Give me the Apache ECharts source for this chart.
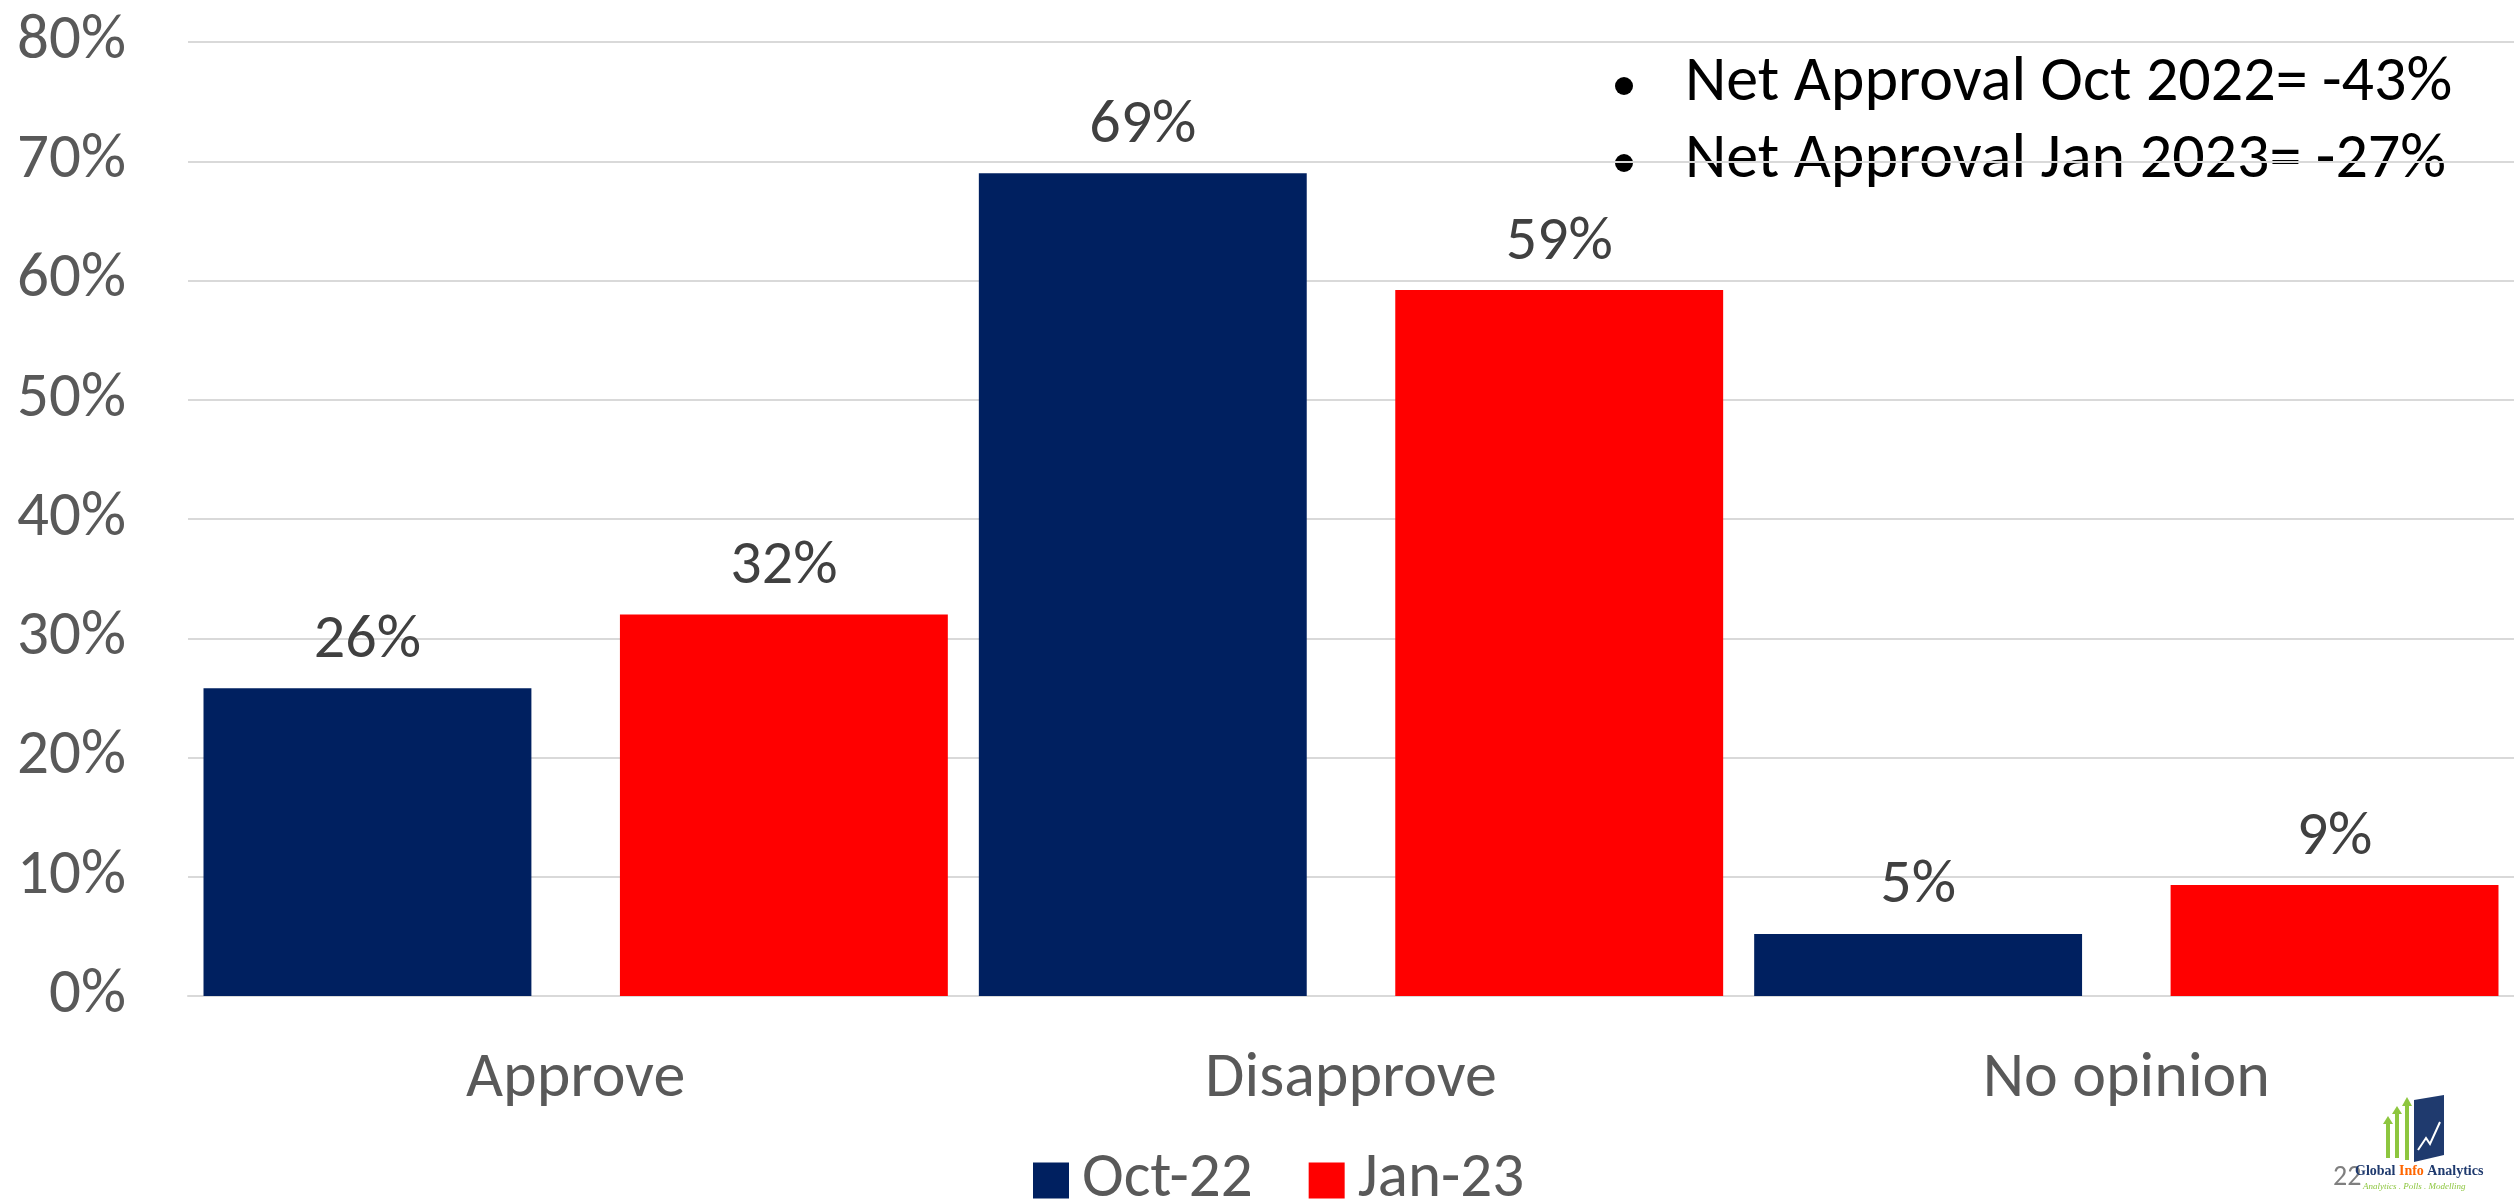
<!DOCTYPE html>
<html><head><meta charset="utf-8">
<script src="https://cdn.jsdelivr.net/npm/echarts@6/dist/echarts.min.js"></script>
<style>html,body{margin:0;padding:0;background:#fff}#c{width:2514px;height:1202px}</style>
</head><body><div id="c"></div>
<script>
const categories = ['Approve', 'Disapprove', 'No opinion'];
const seriesNames = ['Oct-22', 'Jan-23'];
const oct22 = [25.8, 69.0, 5.2];
const jan23 = [32.0, 59.2, 9.3];
const oct22Labels = ['26%', '69%', '5%'];
const jan23Labels = ['32%', '59%', '9%'];
const yTicks = [0, 10, 20, 30, 40, 50, 60, 70, 80];
const notes = ['Net Approval Oct 2022= -43%', 'Net Approval Jan 2023= -27%'];

const FONT = 'Carlito, "Liberation Sans Narrow", "Noto Sans", sans-serif';
const chart = echarts.init(document.getElementById('c'));
chart.setOption({
  animation: false,
  textStyle: { fontFamily: FONT },
  grid: { left: 188, right: 0, top: 42, bottom: 206, containLabel: false },
  legend: {
    data: seriesNames, left: 1028, top: 1144, itemWidth: 36, itemHeight: 36, itemGap: 56,
    icon: 'rect',
    textStyle: { fontSize: 63, color: '#595959', fontFamily: FONT, padding: [0, 0, 0, 8] }
  },
  xAxis: {
    type: 'category', data: categories,
    axisLine: { show: true, lineStyle: { color: '#d9d9d9', width: 2 } },
    axisTick: { show: false },
    axisLabel: { fontSize: 64, color: '#595959', margin: 52, fontFamily: FONT }
  },
  yAxis: {
    type: 'value', min: yTicks[0], max: yTicks[yTicks.length - 1], interval: 10,
    axisLine: { show: false }, axisTick: { show: false },
    splitLine: { lineStyle: { color: '#d9d9d9', width: 2 } },
    axisLabel: { fontSize: 63, color: '#595959', margin: 62, formatter: v => v + '%', fontFamily: FONT }
  },
  series: [
    { name: seriesNames[0], type: 'bar', data: oct22, barGap: '27%', barCategoryGap: '4%',
      itemStyle: { color: '#002060' },
      label: { show: true, position: 'top', distance: 16, fontSize: 62, color: '#404040', fontFamily: FONT,
        formatter: p => oct22Labels[p.dataIndex] } },
    { name: seriesNames[1], type: 'bar', data: jan23, barGap: '27%', barCategoryGap: '4%',
      itemStyle: { color: '#ff0000' },
      label: { show: true, position: 'top', distance: 16, fontSize: 62, color: '#404040', fontFamily: FONT,
        formatter: p => jan23Labels[p.dataIndex] } }
  ],
  graphic: [
    { type: 'circle', shape: { cx: 1624, cy: 86, r: 9 }, style: { fill: '#000' } },
    { type: 'text', left: 1685, top: 52, style: { text: notes[0], fontSize: 64, fontFamily: FONT, fill: '#000' } },
    { type: 'circle', shape: { cx: 1624, cy: 163, r: 9 }, style: { fill: '#000' } },
    { type: 'text', left: 1685, top: 129, style: { text: notes[1], fontSize: 64, fontFamily: FONT, fill: '#000' } },
    // logo
    { type: 'polygon', shape: { points: [[2414, 1100], [2444, 1095], [2444, 1155], [2414, 1162]] }, style: { fill: '#1f3a6e' } },
    { type: 'polyline', shape: { points: [[2418, 1150], [2426, 1138], [2430, 1144], [2440, 1122]] }, style: { stroke: '#fff', lineWidth: 2, fill: null } },
    { type: 'rect', shape: { x: 2386, y: 1122, width: 4, height: 36 }, style: { fill: '#8dc63f' } },
    { type: 'polygon', shape: { points: [[2383, 1124], [2388, 1116], [2393, 1124]] }, style: { fill: '#8dc63f' } },
    { type: 'rect', shape: { x: 2395, y: 1112, width: 4, height: 46 }, style: { fill: '#8dc63f' } },
    { type: 'polygon', shape: { points: [[2392, 1114], [2397, 1106], [2402, 1114]] }, style: { fill: '#8dc63f' } },
    { type: 'rect', shape: { x: 2405, y: 1104, width: 4, height: 56 }, style: { fill: '#8dc63f' } },
    { type: 'polygon', shape: { points: [[2402, 1106], [2407, 1097], [2412, 1106]] }, style: { fill: '#8dc63f' } },
    { type: 'text', left: 2333, top: 1164, style: { text: '22', fill: '#7f7f7f', fontSize: 28, fontFamily: FONT } },
    { type: 'text', left: 2355, top: 1164, style: { rich: {
        a: { fill: '#1f3a6e', fontSize: 14, fontWeight: 'bold', fontFamily: '"Liberation Serif", serif' },
        b: { fill: '#ff6600', fontSize: 14, fontWeight: 'bold', fontFamily: '"Liberation Serif", serif' } },
        text: '{a|Global }{b|Info}{a| Analytics}' } },
    { type: 'text', left: 2363, top: 1182, style: { text: 'Analytics . Polls . Modelling', fill: '#8dc63f', fontSize: 9, fontStyle: 'italic', fontFamily: '"Liberation Serif", serif' } }
  ]
});
</script></body></html>
